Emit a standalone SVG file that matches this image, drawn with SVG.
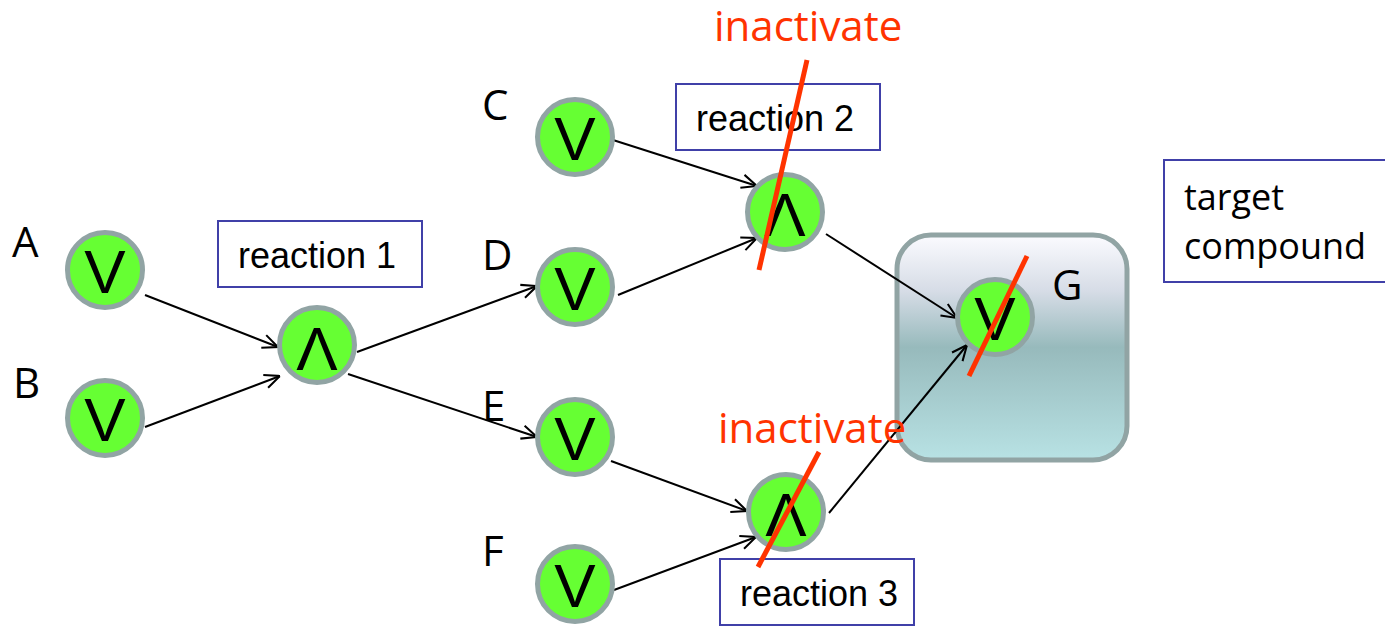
<svg xmlns="http://www.w3.org/2000/svg" width="1385" height="627" viewBox="0 0 1385 627">
  <defs>
    <linearGradient id="boxFill" x1="0" y1="0" x2="0" y2="1">
      <stop offset="0" stop-color="#FBFBFF"/>
      <stop offset="0.25" stop-color="#D6DCE6"/>
      <stop offset="0.5" stop-color="#97BABC"/>
      <stop offset="1" stop-color="#B8E2E4"/>
    </linearGradient>
    <marker id="arrow" viewBox="0 0 10 10" refX="10" refY="5" markerWidth="17" markerHeight="17" markerUnits="userSpaceOnUse" orient="auto">
      <path d="M1,1 L10,5 L1,9" fill="none" stroke="#000" stroke-width="1.2"/>
    </marker>
  </defs>
  <style>
    .node { fill: #66FF33; stroke: #91A4A4; stroke-width: 5; }
    .sym { font-family: "Liberation Sans", Arial, sans-serif; font-size: 62px; fill: #000; text-anchor: middle; }
    .letter { font-family: "Open Sans", "Noto Sans", sans-serif; font-size: 42px; fill: #000; }
    .lbl { fill: #fff; stroke: #4040A8; stroke-width: 2; }
    .lbltext { font-family: "Liberation Sans", Arial, sans-serif; font-size: 36px; fill: #000; }
    .tgttext { font-family: "Open Sans", "Noto Sans", sans-serif; font-size: 36px; fill: #000; }
    .edge { stroke: #000; stroke-width: 2; fill: none; marker-end: url(#arrow); }
    .cut { stroke: #FF3300; stroke-width: 5; }
    .warn { font-family: "Open Sans", "Noto Sans", sans-serif; font-size: 42px; fill: #FF3300; }
  </style>

  <!-- target compound compartment -->
  <g id="compartment">
    <rect x="897" y="235" width="230" height="225" rx="34" fill="url(#boxFill)" stroke="#91A4A4" stroke-width="5"/>
  </g>

  <!-- reaction labels -->
  <g id="label-r1">
    <rect class="lbl" x="218" y="221" width="204" height="66"/>
    <text class="lbltext" x="238" y="268">reaction 1</text>
  </g>
  <g id="label-r2">
    <rect class="lbl" x="676" y="84" width="204" height="66"/>
    <text class="lbltext" x="696" y="131">reaction 2</text>
  </g>
  <g id="label-r3">
    <rect class="lbl" x="720" y="559" width="194" height="66"/>
    <text class="lbltext" x="740" y="606">reaction 3</text>
  </g>
  <g id="label-target">
    <rect class="lbl" x="1164" y="160" width="230" height="122"/>
    <text class="tgttext" x="1184" y="210">target</text>
    <text class="tgttext" x="1184" y="259">compound</text>
  </g>

  <!-- connectors -->
  <g id="connectors">
    <line class="edge" x1="145" y1="295" x2="278" y2="347"/>
    <line class="edge" x1="145" y1="427" x2="280" y2="376"/>
    <line class="edge" x1="357" y1="352" x2="537" y2="286"/>
    <line class="edge" x1="348" y1="374" x2="537" y2="437"/>
    <line class="edge" x1="613" y1="140" x2="757" y2="186"/>
    <line class="edge" x1="618" y1="295" x2="757" y2="238"/>
    <line class="edge" x1="826" y1="234" x2="957" y2="318"/>
    <line class="edge" x1="611" y1="461" x2="747" y2="511"/>
    <line class="edge" x1="614" y1="590" x2="756" y2="537"/>
    <line class="edge" x1="829" y1="513" x2="967" y2="345"/>
  </g>

  <!-- compound nodes -->
  <g id="node-A">
    <circle class="node" cx="105" cy="270" r="37.5"/>
    <text class="sym" x="105" y="293">V</text>
    <text class="letter" x="12" y="257">A</text>
  </g>
  <g id="node-B">
    <circle class="node" cx="105" cy="418" r="37.5"/>
    <text class="sym" x="105" y="441">V</text>
    <text class="letter" x="13" y="398">B</text>
  </g>
  <g id="node-C">
    <circle class="node" cx="575" cy="137" r="37.5"/>
    <text class="sym" x="575" y="160">V</text>
    <text class="letter" x="482" y="120">C</text>
  </g>
  <g id="node-D">
    <circle class="node" cx="575" cy="287" r="37.5"/>
    <text class="sym" x="575" y="310">V</text>
    <text class="letter" x="482" y="270">D</text>
  </g>
  <g id="node-E">
    <circle class="node" cx="575" cy="437" r="37.5"/>
    <text class="sym" x="575" y="460">V</text>
    <text class="letter" x="482" y="421">E</text>
  </g>
  <g id="node-F">
    <circle class="node" cx="575" cy="584" r="37.5"/>
    <text class="sym" x="575" y="607">V</text>
    <text class="letter" x="482" y="566">F</text>
  </g>
  <g id="node-G">
    <circle class="node" cx="995" cy="317" r="37.5"/>
    <text class="sym" x="995" y="340">V</text>
    <text class="letter" x="1052" y="300">G</text>
  </g>

  <!-- reaction nodes -->
  <g id="reaction-1">
    <circle class="node" cx="317" cy="345" r="37.5"/>
    <text class="sym" x="317" y="370">Λ</text>
  </g>
  <g id="reaction-2">
    <circle class="node" cx="785" cy="212" r="37.5"/>
    <text class="sym" x="785" y="236">Λ</text>
  </g>
  <g id="reaction-3">
    <circle class="node" cx="786" cy="512" r="37.5"/>
    <text class="sym" x="786" y="536">Λ</text>
  </g>

  <!-- knock-out marks -->
  <g id="inactivate-r2">
    <line class="cut" x1="807" y1="60" x2="759" y2="270"/>
    <text class="warn" x="714" y="41">inactivate</text>
  </g>
  <g id="inactivate-r3">
    <text class="warn" x="718" y="443">inactivate</text>
    <line class="cut" x1="819" y1="452" x2="758" y2="567"/>
  </g>
  <g id="inactivate-g">
    <line class="cut" x1="1027" y1="256" x2="969" y2="376"/>
  </g>
</svg>
